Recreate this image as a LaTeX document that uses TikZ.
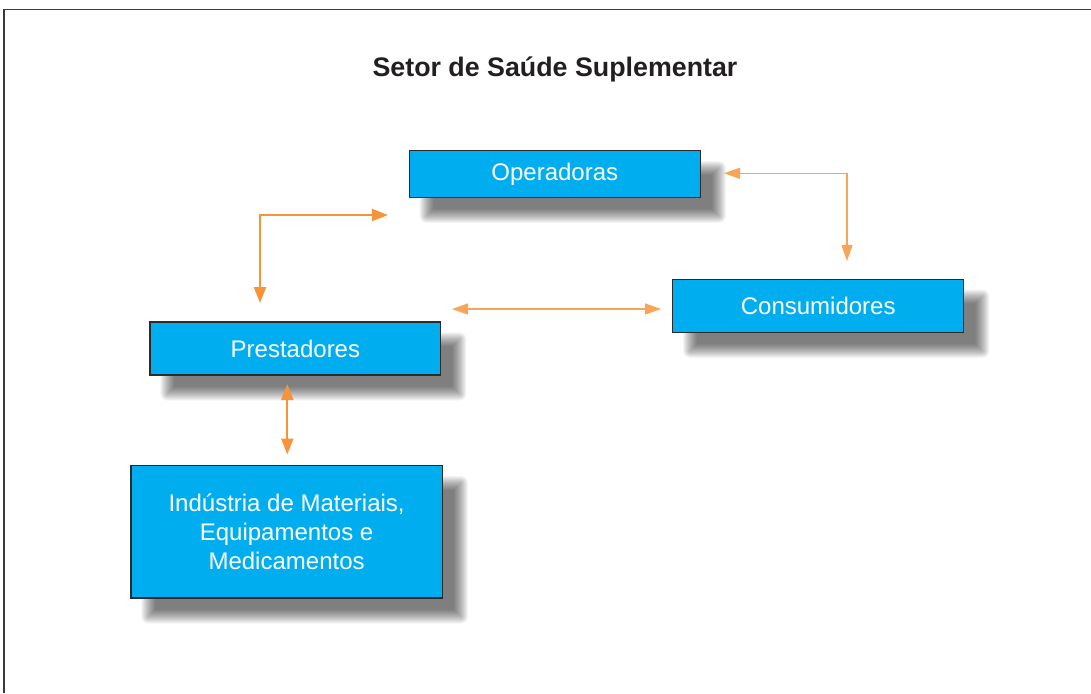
\documentclass[tikz,border=0pt]{standalone}
\usepackage{fontspec}
\setmainfont{Liberation Sans}
\usetikzlibrary{arrows.meta}
\pgfdeclarelayer{shadowlayer}
\pgfsetlayers{shadowlayer,main}
\definecolor{boxcyan}{HTML}{00AEEF}
\definecolor{boxedge}{HTML}{2B2B2B}
\definecolor{arrorange}{HTML}{F7943A}
\definecolor{arrlight}{HTML}{F9A558}
\definecolor{framecol}{HTML}{3A3A3A}
\definecolor{titlecol}{HTML}{231F20}
\newcommand\softshadow[1]{%
  \foreach \r in {-7,...,7}{%
    \pgfmathsetmacro\rc{max(\r,0.01)}%
    \fill[black, opacity=0.042, rounded corners=\rc pt]
      ([xshift={(18-\r)*1pt}, yshift={(-18+\r)*1pt}]#1.north west) rectangle
      ([xshift={(18+\r)*1pt}, yshift={(-18-\r)*1pt}]#1.south east);
  }}
\begin{document}
\begin{tikzpicture}[x=1pt,y=-1pt,
  box/.style={rectangle, draw=boxedge, line width=1.3pt, fill=boxcyan,
    text=white, align=center, inner sep=0pt,
    font=\fontsize{24}{29}\selectfont},
  thickarrow/.style={draw=arrorange, line width=2.2pt,
    {Triangle[length=16pt,width=12pt]}-{Triangle[length=16pt,width=12pt]}},
  thinarrow/.style={draw=arrlight, line width=1.3pt,
    {Triangle[length=16pt,width=11pt]}-{Triangle[length=16pt,width=11pt]}}
]
\useasboundingbox (0,0) rectangle (1091,693);
\begin{pgfonlayer}{shadowlayer}
\fill[white] (0,0) rectangle (1091,693);
\end{pgfonlayer}
\draw[framecol, line width=1.5pt] (4,693) -- (4,9.7) -- (1091,9.7);

\node[text=titlecol, font=\bfseries\fontsize{26.8}{30}\selectfont, anchor=base]
  (title) at (555,77) {Setor de Saúde Suplementar};

\node[box, minimum width=291pt, minimum height=46.5pt] (O) at (554.8,174) {Operadoras};
\node[box, minimum width=291pt, minimum height=53pt] (C) at (818.2,305.7) {Consumidores};
\node[box, minimum width=290.6pt, minimum height=53pt] (P) at (295.4,348.5) {Prestadores};
\node[box, minimum width=311.3pt, minimum height=132.3pt] (I) at (286.6,531.8)
  {Indústria de Materiais,\\Equipamentos e\\Medicamentos};

\begin{pgfonlayer}{shadowlayer}
\softshadow{O}
\softshadow{C}
\softshadow{P}
\softshadow{I}
\end{pgfonlayer}

\coordinate (a1s) at (388,215);
\coordinate (a1e) at (260,303);
\coordinate (a2s) at (724,173.3);
\coordinate (a2e) at (847,261);
\coordinate (a3s) at (452,309);
\coordinate (a3e) at (661,309);
\coordinate (a4s) at (287.3,384);
\coordinate (a4e) at (287.3,454.5);

\draw[thickarrow] (a1s) -| (a1e);
\draw[thinarrow] (a2s) -| (a2e);
\draw[thinarrow] (a3s) -- (a3e);
\draw[thickarrow] (a4s) -- (a4e);
\end{tikzpicture}
\end{document}
